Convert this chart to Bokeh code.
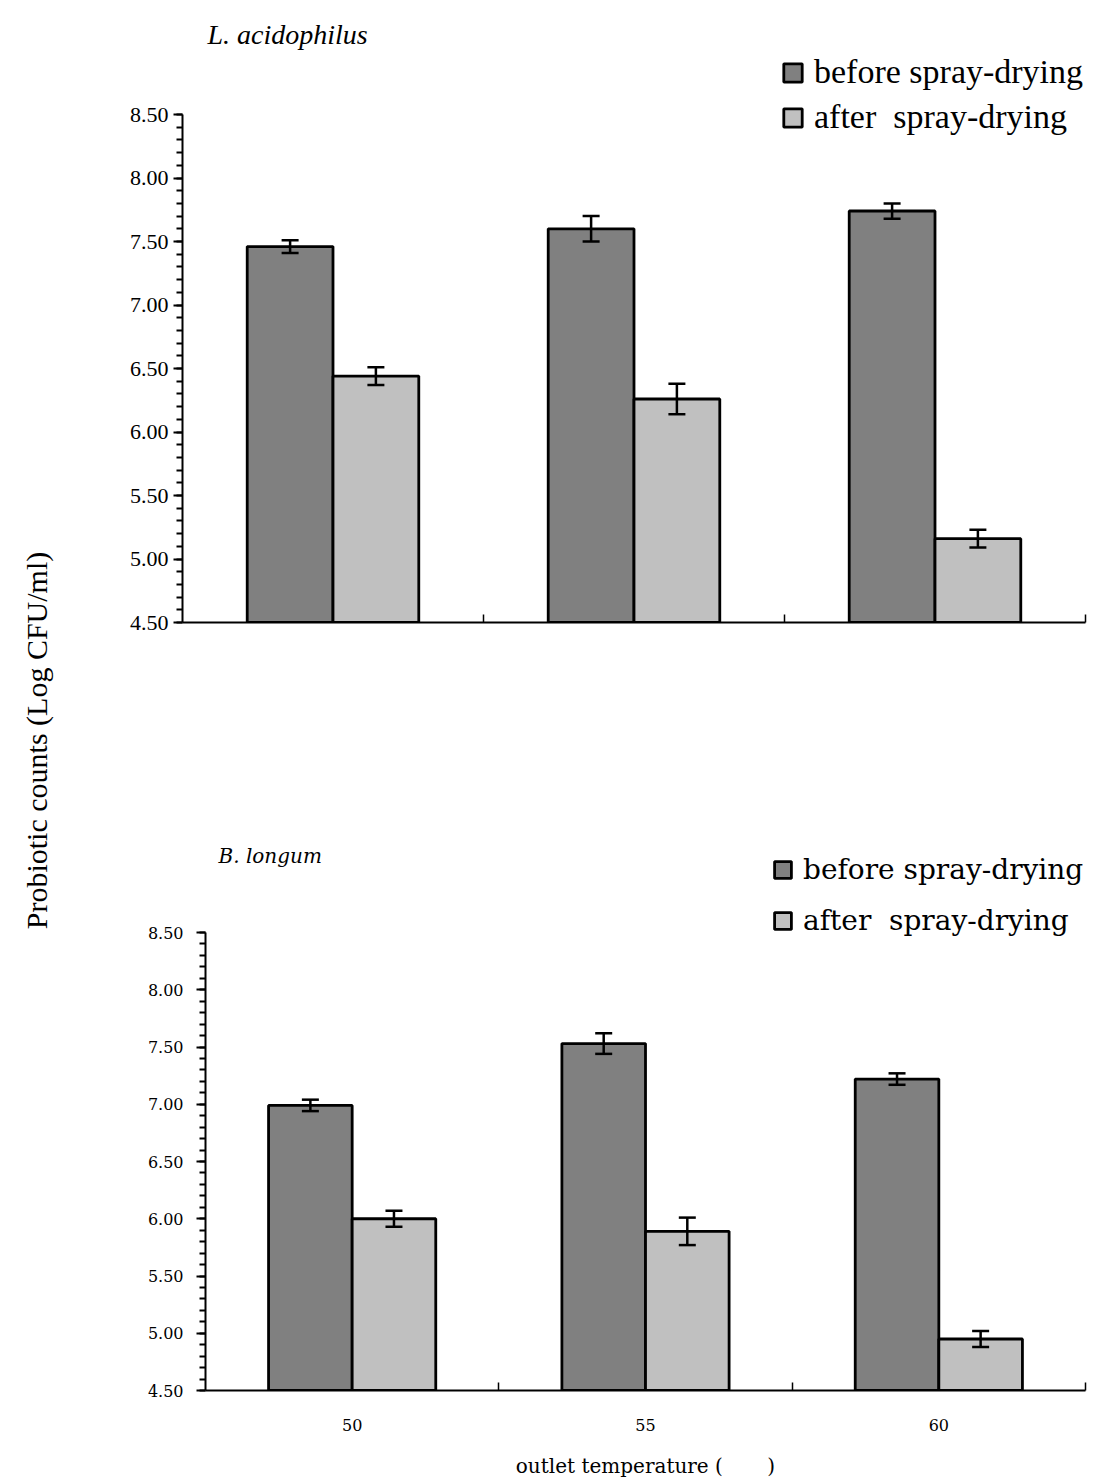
import numpy as np
from bokeh.plotting import figure
from bokeh.models import (Range1d, FixedTicker, SingleIntervalTicker, NumeralTickFormatter,
                          Whisker, TeeHead, ColumnDataSource, Legend, LegendItem, Label, Spacer)
from bokeh.layouts import row, column
from bokeh.embed import file_html
from bokeh.resources import INLINE

# ---------------- data ----------------
temperatures = ["50", "55", "60"]
series_names = ["before spray-drying", "after  spray-drying"]

acid_before = [7.46, 7.60, 7.74]
acid_before_err = [0.05, 0.10, 0.06]
acid_after = [6.44, 6.26, 5.16]
acid_after_err = [0.07, 0.12, 0.07]

long_before = [6.99, 7.53, 7.22]
long_before_err = [0.05, 0.09, 0.05]
long_after = [6.00, 5.89, 4.95]
long_after_err = [0.07, 0.12, 0.07]

y_min, y_max = 4.5, 8.5

DARK = "#808080"
LIGHT = "#C0C0C0"

FRAME_LEFT = 82
FRAME_RIGHT = 27


def panel(before, before_err, after, after_err, width, height, bb, axis_top_px,
          font, tick_size, tick_standoff, show_x_labels, legend_font, legend_size,
          legend_spacing, legend_loc, glyph, title_text, title_font, title_size, title_xy,
          xlabel=None, xlabel_size=None):
    n = len(temperatures)
    frame_h = height - bb
    # y range extended above the axis so the title and legend sit inside the frame
    px_per_unit = (frame_h - axis_top_px) / (y_max - y_min)
    y_end = y_min + frame_h / px_per_unit

    p = figure(width=width, height=height, output_backend="svg", toolbar_location=None,
               x_range=Range1d(0, n), y_range=Range1d(y_min, y_end),
               min_border_left=FRAME_LEFT, min_border_right=FRAME_RIGHT,
               min_border_top=0, min_border_bottom=bb)
    p.outline_line_color = None
    p.grid.visible = False
    p.background_fill_color = "white"
    p.border_fill_color = "white"

    idx = np.arange(n) + 0.5
    w = 0.285
    xb = idx - w / 2
    xa = idx + w / 2
    src_b = ColumnDataSource(dict(x=xb, top=before, lo=np.array(before) - np.array(before_err),
                                  hi=np.array(before) + np.array(before_err)))
    src_a = ColumnDataSource(dict(x=xa, top=after, lo=np.array(after) - np.array(after_err),
                                  hi=np.array(after) + np.array(after_err)))
    rb = p.vbar(x="x", top="top", bottom=y_min, width=w, source=src_b, fill_color=DARK,
                line_color="black", line_width=2.8)
    ra = p.vbar(x="x", top="top", bottom=y_min, width=w, source=src_a, fill_color=LIGHT,
                line_color="black", line_width=2.8)
    for s in (src_b, src_a):
        wk = Whisker(source=s, base="x", upper="hi", lower="lo", dimension="height",
                     line_color="black", line_width=2.5, level="overlay",
                     upper_head=TeeHead(size=17, line_color="black", line_width=2.5),
                     lower_head=TeeHead(size=17, line_color="black", line_width=2.5))
        p.add_layout(wk)

    # y axis
    ya = p.yaxis[0]
    ya.ticker = SingleIntervalTicker(interval=0.5, num_minor_ticks=5)
    ya.formatter = NumeralTickFormatter(format="0.00")
    ya.bounds = (y_min, y_max)
    ya.axis_line_width = 2
    ya.major_tick_line_width = 2
    ya.minor_tick_line_width = 2
    ya.major_tick_in = 0
    ya.major_tick_out = 9
    ya.minor_tick_in = 0
    ya.minor_tick_out = 6
    ya.major_label_text_font = font
    ya.major_label_text_font_size = tick_size
    ya.major_label_text_color = "black"
    ya.major_label_standoff = tick_standoff

    # x axis
    xa_ = p.xaxis[0]
    xa_.axis_line_width = 2
    xa_.major_tick_in = 0
    xa_.major_tick_out = 0
    xa_.minor_tick_in = 8
    xa_.minor_tick_out = 0
    xa_.minor_tick_line_width = 1.5
    if show_x_labels:
        xa_.ticker = FixedTicker(ticks=list(idx), minor_ticks=list(range(1, n + 1)))
        xa_.major_label_overrides = {float(v): t for v, t in zip(idx, temperatures)}
        xa_.major_label_text_font = font
        xa_.major_label_text_font_size = tick_size
        xa_.major_label_text_color = "black"
        xa_.major_label_standoff = 28
        xa_.axis_label = xlabel
        xa_.axis_label_text_font = font
        xa_.axis_label_text_font_size = xlabel_size
        xa_.axis_label_text_font_style = "normal"
        xa_.axis_label_text_color = "black"
        xa_.axis_label_standoff = 20
    else:
        xa_.ticker = FixedTicker(ticks=[], minor_ticks=list(range(1, n + 1)))
        xa_.major_label_text_font_size = "0px"

    leg = Legend(items=[LegendItem(label=series_names[0], renderers=[rb]),
                        LegendItem(label=series_names[1], renderers=[ra])],
                 location=legend_loc, orientation="vertical",
                 label_text_font=legend_font, label_text_font_size=legend_size,
                 label_text_color="black", glyph_width=glyph, glyph_height=glyph,
                 label_standoff=10, spacing=legend_spacing, padding=0, margin=0,
                 border_line_color=None, background_fill_alpha=0)
    p.add_layout(leg)

    p.add_layout(Label(x=title_xy[0], y=title_xy[1], x_units="screen", y_units="screen",
                       text=title_text, text_font=title_font, text_font_size=title_size,
                       text_font_style="italic", text_color="black",
                       text_align="left", text_baseline="alphabetic"))
    return p


top = panel(acid_before, acid_before_err, acid_after, acid_after_err,
            width=1012, height=760, bb=138, axis_top_px=114,
            font="Liberation Serif", tick_size="22px", tick_standoff=5, show_x_labels=False,
            legend_font="Liberation Serif", legend_size="34px", legend_spacing=7,
            legend_loc=(599, 486), glyph=23, title_text="L. acidophilus",
            title_font="Liberation Serif", title_size="28px", title_xy=(25, 588))

bottom = panel(long_before, long_before_err, long_after, long_after_err,
               width=989, height=721, bb=91, axis_top_px=172,
               font="DejaVu Serif", tick_size="16px", tick_standoff=13, show_x_labels=True,
               legend_font="DejaVu Serif", legend_size="28px", legend_spacing=18,
               legend_loc=(567, 453), glyph=21, title_text="B. longum",
               title_font="DejaVu Serif", title_size="20px", title_xy=(13, 535),
               xlabel="outlet temperature (\u00a0\u00a0\u00a0\u00a0\u00a0\u00a0\u00a0)",
               xlabel_size="20px")

left = figure(width=100, height=1481, output_backend="svg", toolbar_location=None,
              x_range=Range1d(0, 1), y_range=Range1d(0, 1),
              min_border_left=0, min_border_right=0, min_border_top=0, min_border_bottom=0)
left.axis.visible = False
left.grid.visible = False
left.outline_line_color = None
left.add_layout(Label(x=36, y=1481 - 740, x_units="screen", y_units="screen",
                      text="Probiotic counts (Log CFU/ml)", text_font="Liberation Serif",
                      text_font_size="30px", text_color="black", angle=np.pi / 2,
                      text_align="center", text_baseline="middle"))

layout = row(left, column(top, row(Spacer(width=23, height=721), bottom, spacing=0), spacing=0),
             spacing=0)

open("out.html", "w").write(file_html(layout, INLINE))
